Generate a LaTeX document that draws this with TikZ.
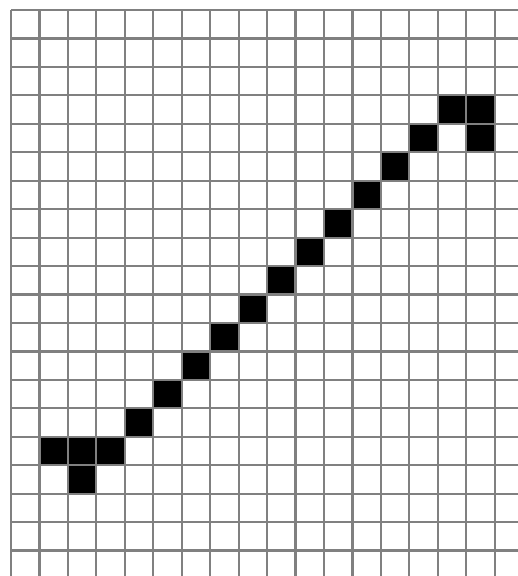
\documentclass[tikz,border=0pt]{standalone}
\begin{document}
\begin{tikzpicture}[x=1pt,y=-1pt,
  gridline/.style={draw=black!50,line width=2.2pt},
  cellfill/.style={fill=black}]
\useasboundingbox (0,0) rectangle (518,576);
\fill[white] (0,0) rectangle (518,576);
\def\s{28.45}
\foreach \c/\r in {15/3,16/3,16/4,14/4,13/5,12/6,11/7,10/8,9/9,8/10,7/11,6/12,5/13,4/14,3/15,2/15,1/15,2/16}{
  \fill[cellfill] ({11+\c*\s},{10+\r*\s}) rectangle ++(\s,\s);
}
\foreach \k in {0,...,17}{
  \draw[gridline] ({11+\k*\s},10) -- ({11+\k*\s},580);
}
\foreach \k in {0,...,19}{
  \draw[gridline] (11,{10+\k*\s}) -- (522,{10+\k*\s});
}
\end{tikzpicture}
\end{document}
